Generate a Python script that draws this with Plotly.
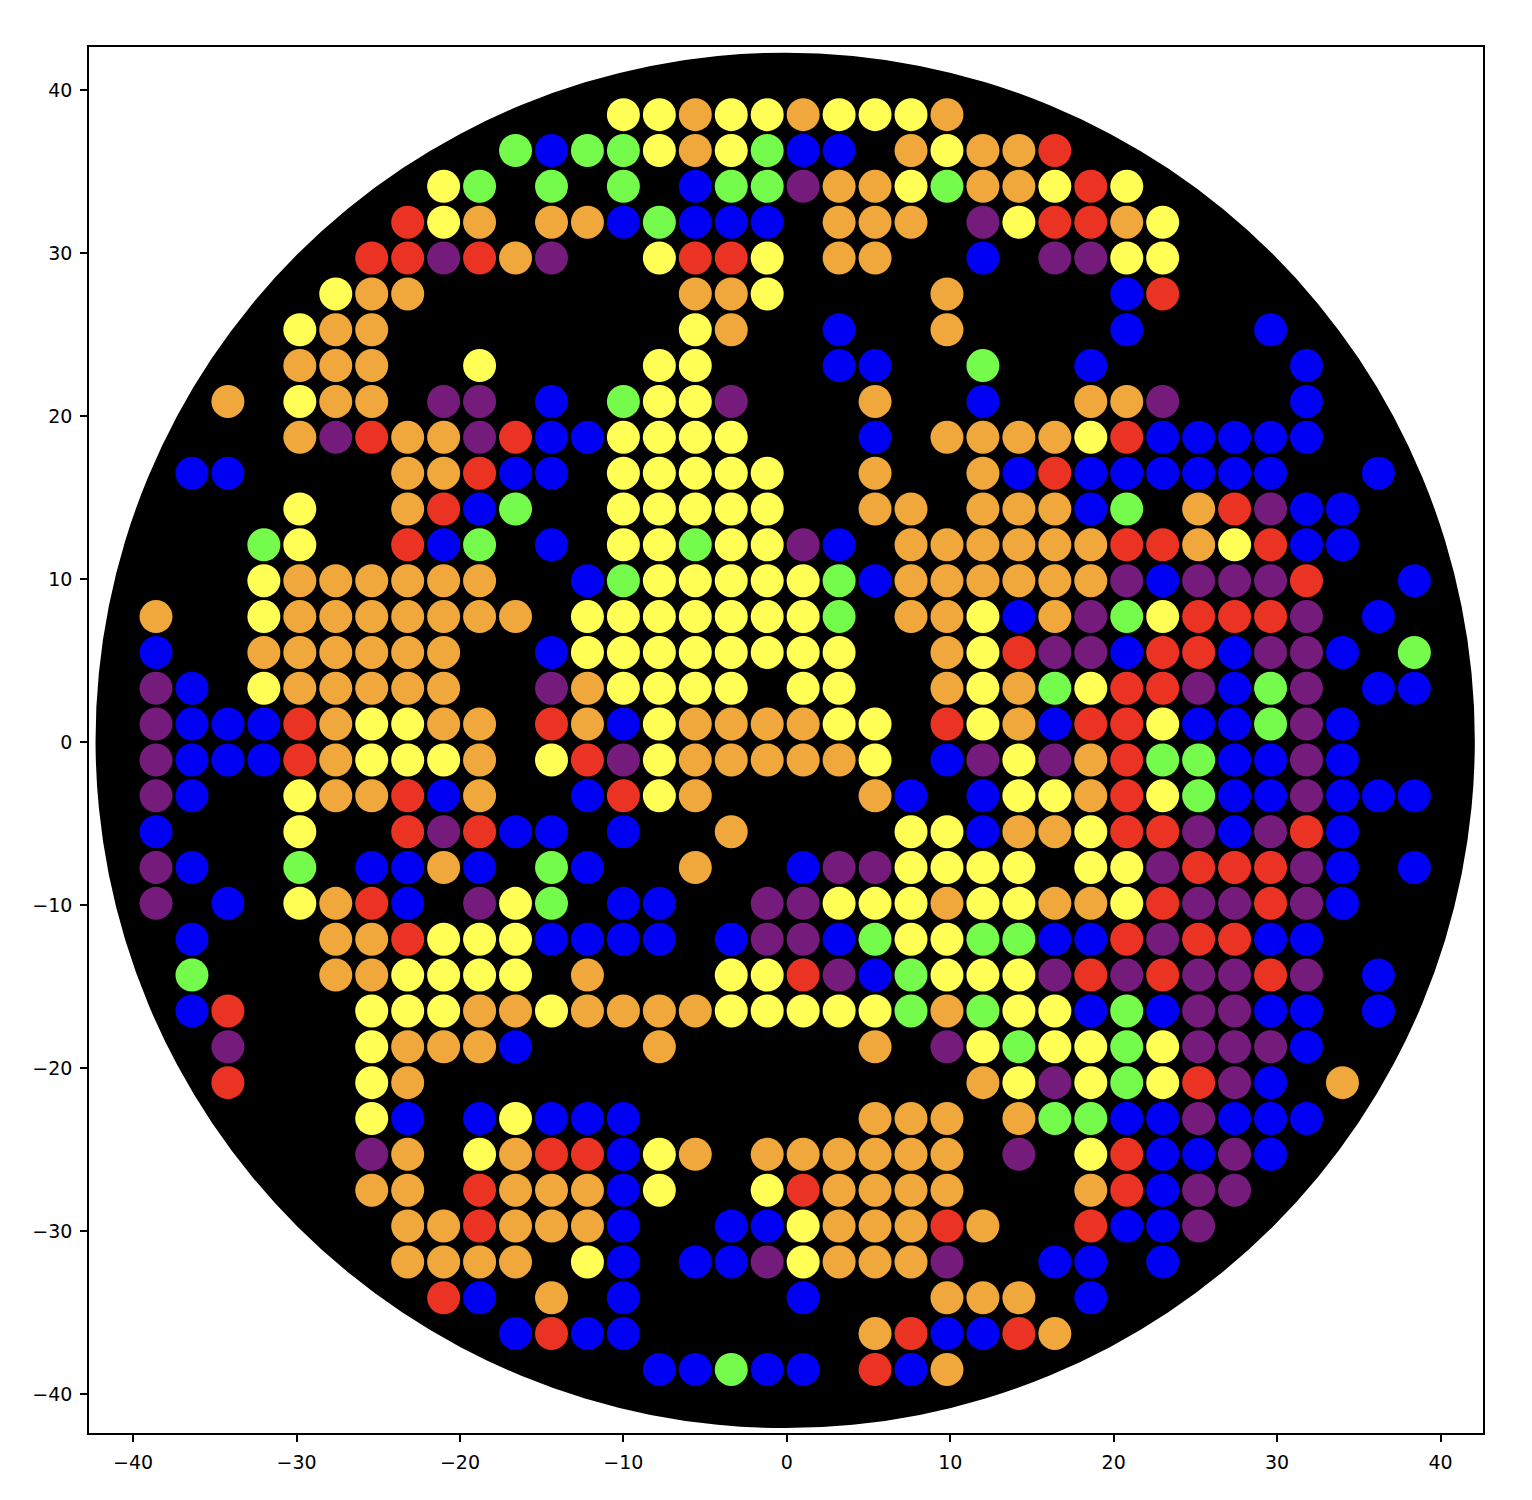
import plotly.graph_objects as go

# Grid of colour codes, one string per row (top row first), 36 columns each.
# Y=yellow, O=orange, R=red, P=purple, B=blue, G=green, .=empty
grid_rows = [
    ".............YYOYYOYYYO.............",
    "..........GBGGYOYGBB.OYOOR..........",
    "........YG.G.G.BGGPOOYGOOYRY........",
    ".......RYO.OOBGBBB.OOO.PYRROY.......",
    "......RRPROP..YRRY.OO..B.PPYY.......",
    ".....YOO.......OOY....O....BR.......",
    "....YOO........YO..B..O....B...B....",
    "....OOO..Y....YY...BB..G..B.....B...",
    "..O.YOO.PP.B.GYYP...O..B..OOP...B...",
    "....OPROOPRBBYYYY...B.OOOOYRBBBBB...",
    ".BB....OORBB.YYYYY..O..OBRBBBBBB..B.",
    "....Y..ORBG..YYYYY..OO.OOOBG.ORPBB..",
    "...GY..RBG.B.YYGYYPB.OOOOOORROYRBB..",
    "...YOOOOOO..BGYYYYYGBOOOOOOPBPPPR..B",
    "O..YOOOOOOO.YYYYYYYG.OOYBOPGYRRRP.B.",
    "B..OOOOOO..BYYYYYYYY..OYRPPBRRBPPB.G",
    "PB.YOOOOO..POYYYY.YY..OYOGYRRPBGP.BB",
    "PBBBROYYOO.ROBYOOOOYY.RYOBRRYBBGPB..",
    "PBBBROYYYO.YRPYOOOOOY.BPYPORGGBBPB..",
    "PB..YOORBO..BRYO....OB.BYYORYGBBPBBB",
    "B...Y..RPRBB.B..O....YYBOOYRRPBPRB..",
    "PB..G.BBOB.GB..O..BPPYYYY.YYPRRRPB.B",
    "P.B.YORB.PYG.BB..PPYYYOYYOOYRPPRPB..",
    ".B...OORYYYBBBB.BPPBGYYGGBBRPRRBB...",
    ".G...OOYYYY.O...YYRPBGYYYPRPRPPRP.B.",
    ".BR...YYYOOYOOOOYYYYYGOGYYBGBPPBB.B.",
    "..P...YOOOB...O.....O.PYGYYGYPPPB...",
    "..R...YO...............OYPYGYRPB.O..",
    "......YB.BYBBB......OOO.OGGBBPBBB...",
    "......PO.YORRBYO.OOOOOO.P.YRBBPB....",
    "......OO.ROOOBY..YROOOO...ORBPP.....",
    ".......OOROOOB..BBYOOORO..RBBP......",
    ".......OOOO.YB.BBPYOOOP..BB.B.......",
    "........RB.O.B....B...OOO.B.........",
    "..........BRBB......ORBBRO..........",
    "..............BBGBB.RBO.............",
]

color_map = {
    "Y": "#FFFF55",
    "O": "#F0A73C",
    "R": "#EA3323",
    "P": "#741B7C",
    "B": "#0000F5",
    "G": "#75FB4C",
}

col_x0 = -38.6      # x of first column
row_y0 = 38.5       # y of top row
grid_step = 2.2     # spacing between grid cells
disk_cx = -0.1      # centre of the black disk
disk_cy = 0.1
disk_radius = 42.2  # radius of the black disk

xs, ys, cs = [], [], []
for r, row in enumerate(grid_rows):
    for c, ch in enumerate(row):
        if ch != ".":
            xs.append(round(col_x0 + grid_step * c, 3))
            ys.append(round(row_y0 - grid_step * r, 3))
            cs.append(color_map[ch])

fig = go.Figure()
fig.add_trace(go.Scatter(
    x=xs, y=ys, mode="markers",
    marker=dict(size=33, color=cs, line=dict(width=0)),
    hoverinfo="x+y", showlegend=False,
))

fig.add_shape(
    type="circle", xref="x", yref="y",
    x0=disk_cx - disk_radius, x1=disk_cx + disk_radius,
    y0=disk_cy - disk_radius, y1=disk_cy + disk_radius,
    fillcolor="black", line=dict(color="black", width=0), layer="below",
)

axis_common = dict(
    showgrid=False, zeroline=False,
    showline=True, linecolor="black", linewidth=1.5, mirror=True,
    ticks="outside", ticklen=7, tickwidth=1.5, tickcolor="black",
    tickfont=dict(family="DejaVu Sans", size=19, color="black"),
    tickmode="array", tickvals=[-40, -30, -20, -10, 0, 10, 20, 30, 40],
)

fig.update_layout(
    width=1524, height=1484,
    margin=dict(l=81, r=49, t=39, b=59),
    paper_bgcolor="white", plot_bgcolor="white",
    xaxis=dict(range=[-42.7, 42.6], ticklabelstandoff=4, **axis_common),
    yaxis=dict(range=[-42.4, 42.65], ticklabelstandoff=4, **axis_common),
    showlegend=False,
)

fig.write_html("out.html")
